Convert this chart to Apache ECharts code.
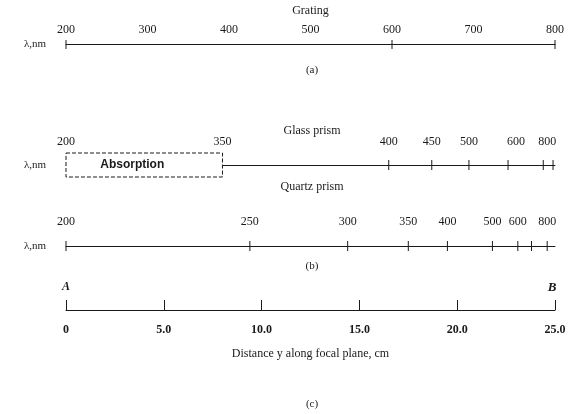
<!DOCTYPE html>
<html><head><meta charset="utf-8">
<script src="https://cdn.jsdelivr.net/npm/echarts@6/dist/echarts.min.js"></script>
<style>html,body{margin:0;padding:0;background:#fff}#c{width:569px;height:414px}</style>
</head><body><div id="c"></div>
<script>
// (a) Grating: wavelength scale is linear in nm
const gratingTickNm = [200, 300, 400, 500, 600, 700, 800];
const gratingMarksNm = [200, 600, 800];
// (b) Glass prism: wavelength labels and their positions along the focal plane (cm)
const glassLabels = ['200', '350', '400', '450', '500', '600', '800'];
const glassPosCm = [0, 8.0, 16.5, 18.7, 20.6, 23.0, 24.6];
const glassTickPosCm = [16.5, 18.7, 20.6, 22.6, 24.4, 24.9];
const absorptionCm = [0, 8.0];
// (b) Quartz prism
const quartzLabels = ['200', '250', '300', '350', '400', '500', '600', '800'];
const quartzPosCm = [0, 9.4, 14.4, 17.5, 19.5, 21.8, 23.1, 24.6];
const quartzTickPosCm = [0, 9.4, 14.4, 17.5, 19.5, 21.8, 23.1, 23.8, 24.6];
// (c) Distance along focal plane
const distanceTicksCm = [0, 5, 10, 15, 20, 25];

const INK = '#1a1a1a';
const SERIF = '"Liberation Serif", "DejaVu Serif", serif';

const chart = echarts.init(document.getElementById('c'), null, {renderer: 'canvas'});

function grid(top) { return {left: 66, right: 14, top: top, height: 20, containLabel: false}; }
function hiddenY(i) { return {gridIndex: i, type: 'value', min: 0, max: 1, show: false}; }

function marks(gi, labels, pos, ticks, up, down, labelOff) {
  const arr = [];
  if (ticks) arr.push({
    type: 'custom', xAxisIndex: gi, yAxisIndex: gi, silent: true,
    data: ticks.map(p => [p]),
    renderItem: (params, api) => {
      const pt = api.coord([api.value(0), 1]);
      return {type: 'line', shape: {x1: pt[0], y1: pt[1] - up, x2: pt[0], y2: pt[1] + down},
        style: {stroke: INK, lineWidth: 1}};
    }
  });
  if (labels) arr.push({
    type: 'custom', xAxisIndex: gi, yAxisIndex: gi, silent: true,
    data: pos.map(p => [p]),
    renderItem: (params, api) => {
      const pt = api.coord([api.value(0), 1]);
      return {type: 'text', style: {text: labels[params.dataIndex], x: pt[0], y: pt[1] - labelOff,
        align: 'center', verticalAlign: 'middle', font: '12px ' + SERIF, fill: INK}};
    }
  });
  return arr;
}

const series = [].concat(
  marks(0, null, null, gratingMarksNm, 4, 5, 0),
  marks(1, glassLabels, glassPosCm, glassTickPosCm, 5, 5, 23),
  marks(2, quartzLabels, quartzPosCm, quartzTickPosCm, 5, 5, 24),
  [{
    type: 'custom', xAxisIndex: 1, yAxisIndex: 1, silent: true, z: 5,
    data: [absorptionCm],
    renderItem: (params, api) => {
      const a = api.coord([api.value(0), 1]);
      const b = api.coord([api.value(1), 1]);
      return {type: 'group', children: [
        {type: 'rect', shape: {x: a[0], y: a[1] - 12, width: b[0] - a[0], height: 24},
          style: {fill: '#fff', stroke: INK, lineWidth: 1, lineDash: [4, 2]}},
        {type: 'text', style: {text: 'Absorption', x: (a[0] + b[0]) / 2 - 12, y: a[1],
          align: 'center', verticalAlign: 'middle', font: 'bold 12px "Liberation Sans", sans-serif', fill: INK}}
      ]};
    }
  }],
  [{type: 'line', xAxisIndex: 3, yAxisIndex: 3, data: [], silent: true}]
);

const txt = (text, x, y, extra) => ({type: 'text', x: x, y: y,
  style: Object.assign({text: text, font: '12px ' + SERIF, fill: INK, align: 'center', verticalAlign: 'middle'}, extra || {})});

const lineStyle = {color: INK, width: 1};

chart.setOption({
  animation: false,
  backgroundColor: '#fff',
  grid: [grid(44), grid(165), grid(246), {left: 66, right: 14, top: 290, height: 20}],
  xAxis: [
    {gridIndex: 0, type: 'value', position: 'top', min: 200, max: 800, interval: 100,
      name: 'Grating', nameLocation: 'middle', nameGap: 27,
      nameTextStyle: {fontFamily: SERIF, fontSize: 12, color: INK},
      axisLine: {onZero: false, lineStyle: lineStyle}, axisTick: {show: false}, splitLine: {show: false},
      axisLabel: {margin: 8, fontFamily: SERIF, fontSize: 12, color: INK,
        customValues: gratingTickNm}},
    {gridIndex: 1, type: 'value', position: 'top', min: 0, max: 25,
      axisLine: {onZero: false, lineStyle: lineStyle}, axisTick: {show: false}, axisLabel: {show: false}, splitLine: {show: false}},
    {gridIndex: 2, type: 'value', position: 'top', min: 0, max: 25,
      axisLine: {onZero: false, lineStyle: lineStyle}, axisTick: {show: false}, axisLabel: {show: false}, splitLine: {show: false}},
    {gridIndex: 3, type: 'value', position: 'bottom', min: 0, max: 25, interval: 5,
      name: 'Distance y along focal plane, cm', nameLocation: 'middle', nameGap: 38,
      nameTextStyle: {fontFamily: SERIF, fontSize: 12, color: INK},
      axisLine: {onZero: false, lineStyle: lineStyle},
      axisTick: {show: true, inside: true, length: 10, lineStyle: {color: INK}, customValues: distanceTicksCm},
      splitLine: {show: false},
      axisLabel: {margin: 14, fontFamily: SERIF, fontSize: 12, color: INK, fontWeight: 'bold',
        customValues: distanceTicksCm,
        formatter: v => v === 0 ? '0' : v.toFixed(1)}}
  ],
  yAxis: [hiddenY(0), hiddenY(1), hiddenY(2), hiddenY(3)],
  series: series,
  graphic: [
    txt('λ,nm', 35, 44, {font: '11px ' + SERIF}),
    txt('λ,nm', 35, 165, {font: '11px ' + SERIF}),
    txt('λ,nm', 35, 246, {font: '11px ' + SERIF}),
    txt('(a)', 312, 70, {font: '11px ' + SERIF}),
    txt('Glass prism', 312, 131),
    txt('Quartz prism', 312, 187),
    txt('(b)', 312, 266, {font: '11px ' + SERIF}),
    txt('A', 66, 287, {font: 'italic bold 12px ' + SERIF}),
    txt('B', 552, 288, {font: 'italic bold 13px ' + SERIF}),
    txt('(c)', 312, 404, {font: '11px ' + SERIF})
  ]
});
</script></body></html>
